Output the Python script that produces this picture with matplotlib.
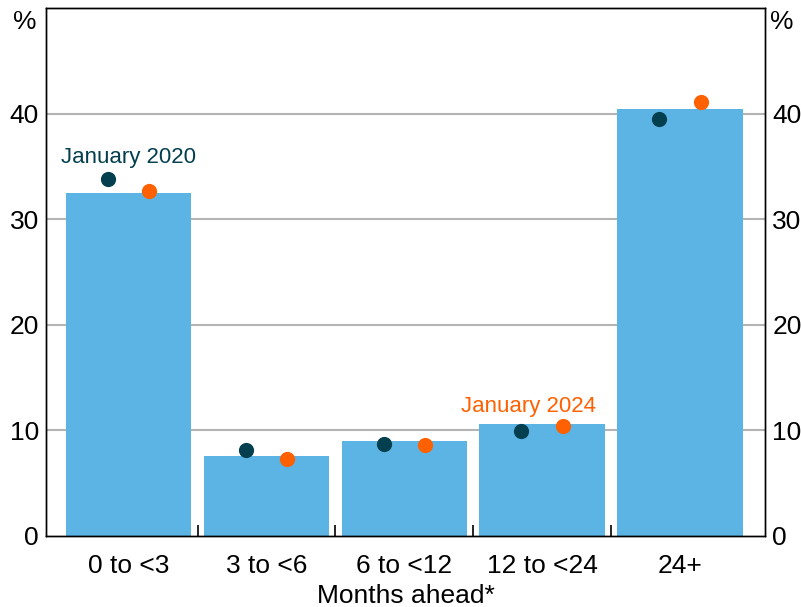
import numpy as np
import matplotlib
matplotlib.use("Agg")
import matplotlib.pyplot as plt

plt.rcParams['font.family'] = ['Liberation Sans', 'DejaVu Sans']

# data
categories = ["0 to <3", "3 to <6", "6 to <12", "12 to <24", "24+"]
bar_values = [32.5, 7.6, 9.0, 10.6, 40.4]
jan2020 = [33.8, 8.1, 8.7, 9.9, 39.5]
jan2024 = [32.7, 7.3, 8.6, 10.4, 41.1]
y_ticks = [0, 10, 20, 30, 40]

bar_color = "#5BB4E3"
dark = "#033F4E"
orange = "#FF6000"

fig = plt.figure(figsize=(8.01, 6.07), dpi=100)
ax = fig.add_axes([0.0574, 0.117, 0.898, 0.870])

x = np.arange(len(categories))
ax.bar(x, bar_values, width=0.91, color=bar_color, zorder=2)
ax.scatter(x - 0.15, jan2020, s=120, color=dark, zorder=3, linewidths=0)
ax.scatter(x + 0.15, jan2024, s=120, color=orange, zorder=3, linewidths=0)

ax.set_xlim(-0.6, 4.62)
ax.set_ylim(0, 50)

# gridlines
for v in y_ticks[1:]:
    ax.axhline(v, color="#b4b4b4", lw=1.5, zorder=1)

ax.set_yticks(y_ticks)
ax.tick_params(axis="y", length=0, labelsize=19, pad=5)
ax.set_xticks(x)
ax.set_xticklabels(categories)
ax.tick_params(axis="x", length=0, labelsize=19, pad=13)
# category boundary ticks pointing inward
ax.set_xticks(x[:-1] + 0.5, minor=True)
ax.tick_params(axis="x", which="minor", direction="in", length=8, width=1.2)

ax2 = ax.twinx()
ax2.set_ylim(0, 50)
ax2.set_yticks(y_ticks)
ax2.tick_params(axis="y", length=0, labelsize=19, pad=5)

for a in (ax, ax2):
    for s in a.spines.values():
        s.set_linewidth(1.0)
        s.set_color("black")

ax.set_xlabel("Months ahead*", fontsize=19, labelpad=4)

fig.text(25 / 801, 1 - 22 / 607, "%", fontsize=19, ha="center", va="center")
fig.text(782 / 801, 1 - 22 / 607, "%", fontsize=19, ha="center", va="center")

ax.text(0.0, 35.8, "January 2020", color=dark, fontsize=16, ha="center", va="center")
ax.text(2.9, 12.3, "January 2024", color=orange, fontsize=16, ha="center", va="center")

fig.savefig("out.png", dpi=100)
